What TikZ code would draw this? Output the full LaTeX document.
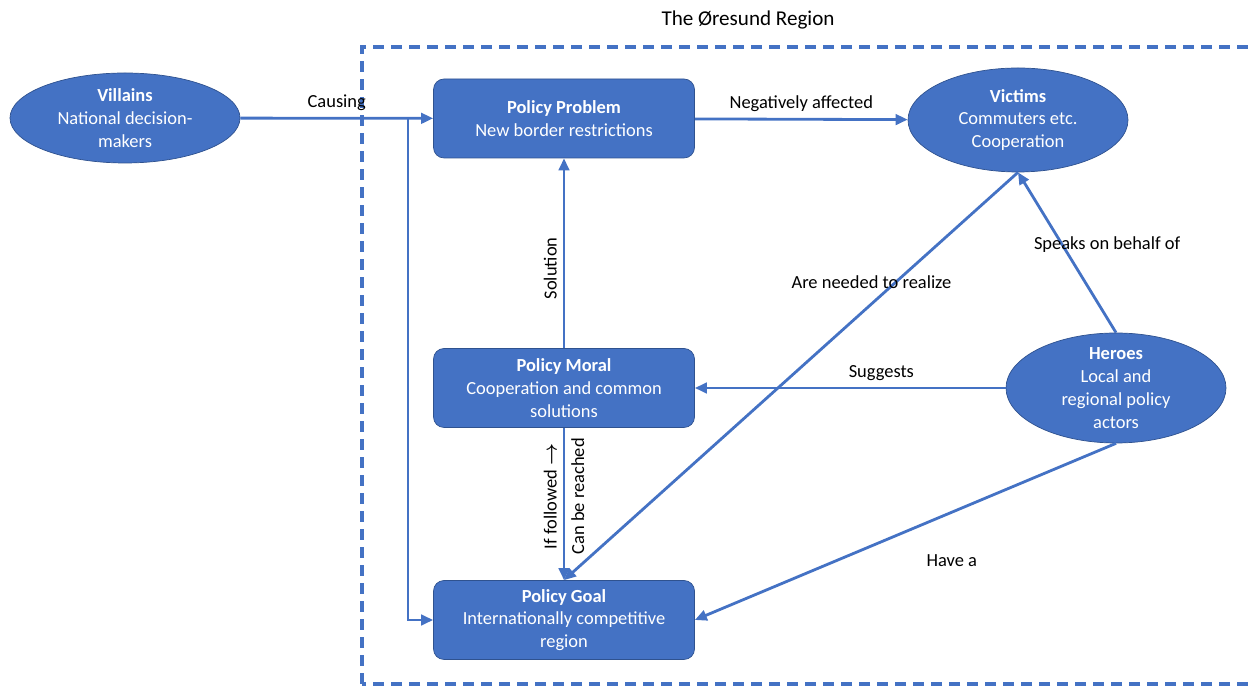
\documentclass[tikz,border=0pt]{standalone}
\usepackage{fontspec}
\setmainfont{Carlito}
\usetikzlibrary{arrows.meta,positioning,shapes.geometric}
\definecolor{FrameBlue}{HTML}{4472C4}
\definecolor{FrameBlueDark}{HTML}{2F528F}

\begin{document}
\begin{tikzpicture}[policy/.style={draw=FrameBlueDark,fill=FrameBlue,text=white,
  rounded corners=6pt,minimum width=5.22cm,minimum height=1.58cm,align=center,
  font=\fontsize{10.5}{13}\selectfont},
  actor/.style={ellipse,draw=FrameBlueDark,fill=FrameBlue,text=white,inner xsep=0pt,
  inner ysep=-3mm,align=center,font=\fontsize{10.5}{13}\selectfont},
  flow/.style={-{Triangle[length=2.4mm,width=2.1mm]},line width=1.6pt,draw=FrameBlue},
  lbl/.style={font=\fontsize{10.5}{13}\selectfont,text=black}]
\useasboundingbox (0,0) rectangle (25.06,13.72);
\clip (0,0) rectangle (25.06,13.72);
\node[font=\fontsize{12}{14}\selectfont] (title) at (14.96,13.32) {The Øresund Region};
\draw[draw=FrameBlue,line width=2pt,dash pattern=on 0.22cm off 0.14cm]
  (7.24,0.04) rectangle (25.5,12.78);
\node[actor,minimum width=4.6cm,minimum height=1.8cm] (villains) at (2.5,11.36)
  {\textbf{Villains}\\National decision-\\makers};
\node[policy] (problem) at (11.28,11.35) {\textbf{Policy Problem}\\New border restrictions};
\node[actor,minimum width=4.4cm,minimum height=2.08cm] (victims) at (20.36,11.32)
  {\textbf{Victims}\\Commuters etc.\\Cooperation};
\node[policy] (moral) at (11.28,5.96) {\textbf{Policy Moral}\\Cooperation and common\\solutions};
\node[actor,minimum width=4.4cm,minimum height=2.2cm] (heroes) at (22.32,5.96)
  {\textbf{Heroes}\\Local and\\regional policy\\actors};
\node[policy] (goal) at (11.28,1.32) {\textbf{Policy Goal}\\Internationally competitive\\region};
\coordinate (split) at (8.16,11.36);
\draw[flow] (villains) -- node[lbl,above]{Causing} (problem);
\draw[flow] (split) |- (goal.west);
\draw[flow] (problem) -- node[lbl,above]{Negatively affected} (victims);
\draw[flow] (moral) -- node[lbl,pos=0.42,sloped,above]{Solution} (problem);
\draw[flow] (moral) -- node[lbl,pos=0.45,rotate=90,above]{If followed {\boldmath$\rightarrow$}}
  node[lbl,pos=0.45,rotate=90,below]{Can be reached} (goal);
\draw[flow] (victims.south) -- node[lbl,pos=0.27,xshift=-4.8mm]{Are needed to realize} (goal.north);
\draw[flow] (heroes) -- node[lbl,pos=0.4,above]{Suggests} (moral);
\draw[flow] (heroes.north) -- node[lbl,pos=0.55,xshift=9mm]{Speaks on behalf of} (victims.south);
\draw[flow] (heroes.south) -- node[lbl,pos=0.39,below=7mm]{Have a} (goal.east);
\end{tikzpicture}
\end{document}
